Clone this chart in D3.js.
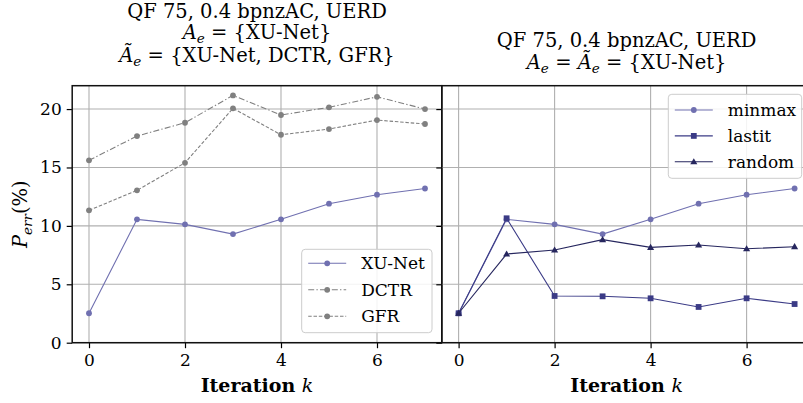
<!DOCTYPE html>
<html><head><meta charset="utf-8">
<script src="https://cdn.jsdelivr.net/npm/d3@7"></script>
<style>
body{margin:0;background:#fff}
svg{display:block}
</style>
</head><body>
<svg id="c" width="803" height="403"></svg>
<script>
// ---- data ----
const iterations = [0, 1, 2, 3, 4, 5, 6, 7];
const xuNet  = [2.52, 10.56, 10.13, 9.30, 10.56, 11.90, 12.67, 13.20];
const dctr   = [15.61, 17.69, 18.83, 21.17, 19.49, 20.15, 21.05, 20.00];
const gfr    = [11.33, 13.04, 15.40, 20.06, 17.80, 18.29, 19.06, 18.72];
const minmax = [2.52, 10.56, 10.13, 9.30, 10.56, 11.90, 12.67, 13.20];
const lastit = [2.52, 10.65, 4.00, 3.97, 3.80, 3.06, 3.80, 3.31];
const random = [2.52, 7.59, 7.93, 8.82, 8.16, 8.36, 8.04, 8.22];
const xTicks = [0, 2, 4, 6];
const yTicks = [0, 5, 10, 15, 20];
const leftNames = ["XU-Net", "DCTR", "GFR"];
const rightNames = ["minmax", "lastit", "random"];

// ---- layout ----
const FONT = "'DejaVu Serif', serif";
const svg = d3.select("#c");
const yTop = 85.7, yBot = 342.7;
const y = d3.scaleLinear().domain([0, 22]).range([yBot, yTop]);
const xL = d3.scaleLinear().domain([-0.35, 7.35]).range([72.2, 441.8]);
const xR = d3.scaleLinear().domain([-0.35, 7.35]).range([441.8, 811.4]);

const C_MIN = "#7070b0", C_LAST = "#3b3b86", C_RAND = "#26265e", C_GRAY = "#808080";

const leftSeries = [
  {name: leftNames[0], vals: xuNet, color: C_MIN, dash: null, marker: "circle"},
  {name: leftNames[1], vals: dctr, color: C_GRAY, dash: "6,2.2,1.4,2.2", marker: "circle"},
  {name: leftNames[2], vals: gfr, color: C_GRAY, dash: "3.5,1.8", marker: "circle"}
];
const rightSeries = [
  {name: rightNames[0], vals: minmax, color: C_MIN, dash: null, marker: "circle"},
  {name: rightNames[1], vals: lastit, color: C_LAST, dash: null, marker: "square"},
  {name: rightNames[2], vals: random, color: C_RAND, dash: null, marker: "triangle"}
];

function marker(g, type, cx, cy, color) {
  if (type === "circle") {
    g.append("circle").attr("cx", cx).attr("cy", cy).attr("r", 2.9).attr("fill", color);
  } else if (type === "square") {
    g.append("rect").attr("x", cx - 2.9).attr("y", cy - 2.9).attr("width", 5.8).attr("height", 5.8).attr("fill", color);
  } else {
    g.append("path").attr("d", d3.symbol(d3.symbolTriangle, 22)()).attr("transform", `translate(${cx},${cy + 0.5})`).attr("fill", color);
  }
}

function panel(x, series, showLabels) {
  const g = svg.append("g");
  const [x0, x1] = x.range();
  g.append("g").selectAll("line").data(xTicks).join("line")
    .attr("x1", d => x(d)).attr("x2", d => x(d)).attr("y1", yTop).attr("y2", yBot)
    .attr("stroke", "#b0b0b0").attr("stroke-width", 1.1);
  g.append("g").selectAll("line").data(yTicks).join("line")
    .attr("x1", x0).attr("x2", x1).attr("y1", d => y(d)).attr("y2", d => y(d))
    .attr("stroke", "#b0b0b0").attr("stroke-width", 1.1);
  const line = d3.line().x((d, i) => x(iterations[i])).y(d => y(d));
  series.forEach(s => {
    g.append("path").attr("d", line(s.vals)).attr("fill", "none")
      .attr("stroke", s.color).attr("stroke-width", 1.1)
      .attr("stroke-dasharray", s.dash);
    const mg = g.append("g");
    s.vals.forEach((v, i) => marker(mg, s.marker, x(iterations[i]), y(v), s.color));
  });
  const ax = g.append("g").attr("transform", `translate(0,${yBot})`)
    .call(d3.axisBottom(x).tickValues(xTicks).tickSize(5.5).tickPadding(6).tickFormat(d3.format("d")));
  ax.select(".domain").remove();
  ax.attr("font-family", null).attr("font-size", null);
  ax.selectAll("text").style("font-family", FONT).style("font-size", "17px");
  const ay = g.append("g").attr("transform", `translate(${x0},0)`)
    .call(d3.axisLeft(y).tickValues(yTicks).tickSize(5.5).tickPadding(5)
      .tickFormat(showLabels ? d3.format("d") : () => ""));
  ay.select(".domain").remove();
  ay.attr("font-family", null).attr("font-size", null);
  ay.selectAll("text").style("font-family", FONT).style("font-size", "17px");
  g.selectAll(".tick line").attr("stroke", "#000").attr("stroke-width", 1.2);
  g.append("rect").attr("x", x0).attr("y", yTop).attr("width", x1 - x0).attr("height", yBot - yTop)
    .attr("fill", "none").attr("stroke", "#111").attr("stroke-width", 1.5);
  return g;
}

function legend(series, bx, by, bw, rows) {
  const g = svg.append("g");
  g.append("rect").attr("x", bx).attr("y", by).attr("width", bw).attr("height", rows.h)
    .attr("rx", 3.5).attr("fill", "#fff").attr("fill-opacity", 0.85)
    .attr("stroke", "#cccccc").attr("stroke-width", 1);
  series.forEach((s, i) => {
    const cy = by + rows.first + i * rows.step;
    const lx0 = bx + 6.5, lx1 = lx0 + 38;
    g.append("line").attr("x1", lx0).attr("x2", lx1).attr("y1", cy).attr("y2", cy)
      .attr("stroke", s.color).attr("stroke-width", 1.1).attr("stroke-dasharray", s.dash);
    marker(g, s.marker, (lx0 + lx1) / 2, cy, s.color);
    g.append("text").attr("x", lx1 + 15).attr("y", cy).attr("dy", "0.36em")
      .style("font-family", FONT).style("font-size", "17px").text(s.name);
  });
}

function mtext(cx, yb, parts, size) {
  const t = svg.append("text").attr("x", cx).attr("y", yb).attr("text-anchor", "middle")
    .style("font-family", FONT).style("font-size", size + "px");
  let shifted = false;
  parts.forEach(p => {
    const ts = t.append("tspan").text(p.t);
    if (p.i) ts.style("font-style", "italic");
    if (p.sub) { ts.style("font-size", (size * 0.7) + "px").attr("dy", size * 0.22); shifted = true; }
    else if (shifted) { ts.attr("dy", -size * 0.22); shifted = false; }
  });
  return t;
}

panel(xL, leftSeries, true);
panel(xR, rightSeries, false);

legend(leftSeries, 301.7, 249.3, 130.3, {h: 83.4, first: 14, step: 26.5});
legend(rightSeries, 668.3, 94.3, 133.4, {h: 84, first: 15.7, step: 25.9});

const cL = (xL.range()[0] + xL.range()[1]) / 2;
const cR = (xR.range()[0] + xR.range()[1]) / 2;
const TS = 19.5;
mtext(cL, 18, [{t: "QF 75, 0.4 bpnzAC, UERD"}], TS);
mtext(cL, 38.5, [{t: "A", i: 1}, {t: "e", i: 1, sub: 1}, {t: " = {XU-Net}"}], TS);
mtext(cL, 62, [{t: "Ã", i: 1}, {t: "e", i: 1, sub: 1}, {t: " = {XU-Net, DCTR, GFR}"}], TS);
mtext(cR, 46.5, [{t: "QF 75, 0.4 bpnzAC, UERD"}], TS);
mtext(cR, 69, [{t: "A", i: 1}, {t: "e", i: 1, sub: 1}, {t: " = "}, {t: "Ã", i: 1}, {t: "e", i: 1, sub: 1}, {t: " = {XU-Net}"}], TS);

[cL, cR].forEach(cx => {
  const t = svg.append("text").attr("x", cx).attr("y", 392).attr("text-anchor", "middle")
    .style("font-family", FONT).style("font-size", "19px");
  t.append("tspan").style("font-weight", "bold").text("Iteration ");
  t.append("tspan").style("font-style", "italic").text("k");
});

const yl = svg.append("text").attr("transform", `translate(27,${(yTop + yBot) / 2}) rotate(-90)`)
  .attr("text-anchor", "middle").style("font-family", FONT).style("font-size", "19.5px");
yl.append("tspan").style("font-style", "italic").text("P");
yl.append("tspan").style("font-style", "italic").style("font-size", "13.5px").attr("dy", 4.5).text("err");
yl.append("tspan").attr("dy", -4.5).text("(%)");
</script>
</body></html>
